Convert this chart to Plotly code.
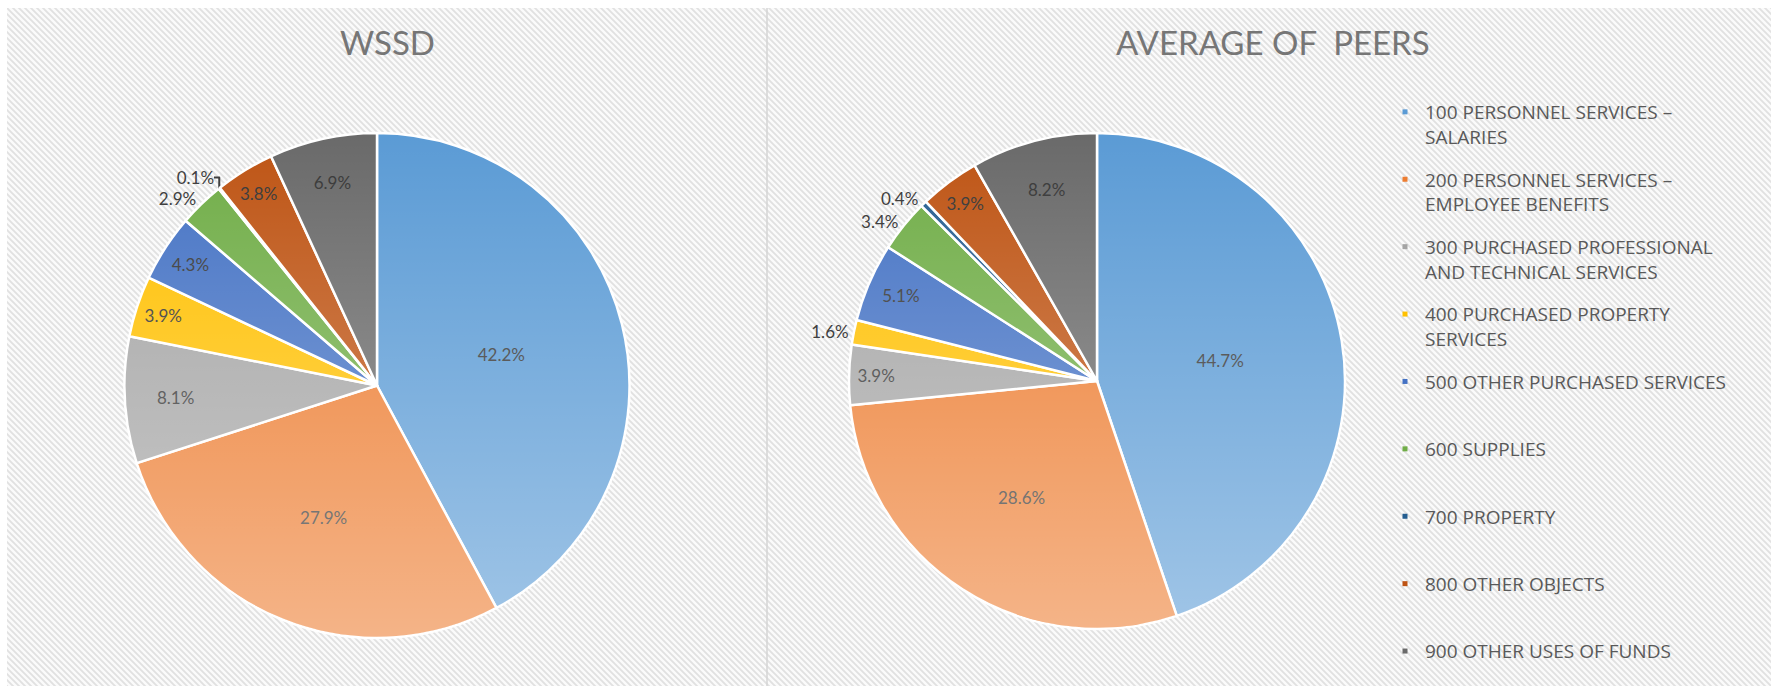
import base64
import plotly.graph_objects as go

# Expenditure categories (object codes)
categories = [
    "100 PERSONNEL SERVICES –<br>SALARIES",
    "200 PERSONNEL SERVICES –<br>EMPLOYEE BENEFITS",
    "300 PURCHASED PROFESSIONAL<br>AND TECHNICAL SERVICES",
    "400 PURCHASED PROPERTY<br>SERVICES",
    "500 OTHER PURCHASED SERVICES",
    "600 SUPPLIES",
    "700 PROPERTY",
    "800 OTHER OBJECTS",
    "900 OTHER USES OF FUNDS",
]

# Share of total spending (%)
wssd_values = [42.2, 27.9, 8.1, 3.9, 4.3, 2.9, 0.1, 3.8, 6.9]
peers_values = [44.7, 28.6, 3.9, 1.6, 5.1, 3.4, 0.4, 3.9, 8.2]

chart_titles = ["WSSD", "AVERAGE OF  PEERS"]

# Slice colours (Office-style palette; a vertical light gradient is laid over each pie)
colors = ["#5B9BD5", "#ED7D31", "#A5A5A5", "#FFC000", "#4472C4",
          "#70AD47", "#255E91", "#BE5414", "#6A6A6A"]

wssd_textpos = ["inside", "inside", "inside", "inside", "inside",
                "outside", "outside", "inside", "inside"]
peers_textpos = ["inside", "inside", "inside", "outside", "inside",
                 "outside", "outside", "inside", "inside"]

W, H = 1771, 686
FONT = "Lato"
LABEL_COLOR = "#353535"

# Pie placement in pixels: centre x, centre y, radius
PIES = [(377, 385.5, 252.5), (1097, 381, 248)]


def px_domain(cx, cy, r):
    return dict(x=[(cx - r) / W, (cx + r) / W],
                y=[(H - (cy + r)) / H, (H - (cy - r)) / H])


fig = go.Figure()

for values, textpos, (cx, cy, r) in [
    (wssd_values, wssd_textpos, PIES[0]),
    (peers_values, peers_textpos, PIES[1]),
]:
    fig.add_trace(go.Pie(
        labels=categories,
        values=values,
        sort=False,
        direction="clockwise",
        rotation=0,
        domain=px_domain(cx, cy, r),
        marker=dict(colors=colors, line=dict(color="white", width=2.5)),
        texttemplate="%{value:.1f}%",
        textposition=textpos,
        insidetextorientation="horizontal",
        textfont=dict(family=FONT, size=17, color=LABEL_COLOR),
        outsidetextfont=dict(family=FONT, size=17, color="#404040"),
        showlegend=False,
        hoverinfo="label+value",
    ))

# Legend entries with small square swatches
for i, (name, col) in enumerate(zip(categories, colors)):
    label = name if ("<br>" in name or i == len(categories) - 1) else name + "<br>\u00a0"
    fig.add_trace(go.Scatter(
        x=[None], y=[None], mode="markers",
        marker=dict(symbol="square", size=5, color=col),
        name=label, legendgroup=f"g{i}", showlegend=True,
        hoverinfo="skip",
    ))


def svg_uri(svg):
    return "data:image/svg+xml;base64," + base64.b64encode(svg.encode()).decode()


# Hatched backdrop
pattern_svg = (
    f'<svg xmlns="http://www.w3.org/2000/svg" width="{W - 7}" height="{H - 8}">'
    '<defs><pattern id="p" width="6" height="6" patternUnits="userSpaceOnUse">'
    '<rect width="6" height="6" fill="#fbfbfb"/>'
    '<path d="M-1,-1 L7,7 M-1,5 L1,7 M5,-1 L7,1" stroke="#e1e1e1" stroke-width="1.8"/>'
    '</pattern></defs><rect width="100%" height="100%" fill="url(#p)"/></svg>'
)

images = [dict(
    source=svg_uri(pattern_svg), xref="paper", yref="paper",
    x=7 / W, y=1 - 8 / H, sizex=(W - 7) / W, sizey=(H - 8) / H,
    xanchor="left", yanchor="top", sizing="stretch", layer="below",
)]

# Top-to-bottom light sheen over each pie
for cx, cy, r in PIES:
    d = 2 * r
    sheen_svg = (
        f'<svg xmlns="http://www.w3.org/2000/svg" width="{d}" height="{d}" viewBox="0 0 {d} {d}">'
        '<defs><linearGradient id="g" x1="0" y1="0" x2="0" y2="1">'
        '<stop offset="0" stop-color="#fff" stop-opacity="0"/>'
        '<stop offset="1" stop-color="#fff" stop-opacity="0.42"/>'
        '</linearGradient></defs>'
        f'<circle cx="{r}" cy="{r}" r="{r - 1}" fill="url(#g)"/></svg>'
    )
    images.append(dict(
        source=svg_uri(sheen_svg), xref="paper", yref="paper",
        x=(cx - r) / W, y=(H - (cy - r)) / H, sizex=d / W, sizey=d / H,
        xanchor="left", yanchor="top", sizing="stretch", layer="above",
    ))

fig.update_layout(
    width=W, height=H,
    margin=dict(l=0, r=0, t=0, b=0, autoexpand=False),
    paper_bgcolor="white",
    plot_bgcolor="rgba(0,0,0,0)",
    font=dict(family=FONT, color="#595959"),
    uniformtext=dict(minsize=17, mode="show"),
    xaxis=dict(visible=False, domain=[0.99, 1.0]),
    yaxis=dict(visible=False, domain=[0.99, 1.0]),
    images=images,
    shapes=[dict(
        type="line", xref="paper", yref="paper",
        x0=767 / W, x1=767 / W, y0=0, y1=1 - 8 / H,
        line=dict(color="#d4d4d4", width=1.5),
    )],
    annotations=[
        dict(text=chart_titles[0], xref="paper", yref="paper",
             x=387 / W, y=1 - 42 / H, xanchor="center", yanchor="middle",
             showarrow=False, font=dict(family=FONT, size=33, color="#767676")),
        dict(text=chart_titles[1], xref="paper", yref="paper",
             x=1273 / W, y=1 - 42 / H, xanchor="center", yanchor="middle",
             showarrow=False, font=dict(family=FONT, size=33, color="#767676")),
    ],
    legend=dict(
        x=1385 / W, y=1 - 93 / H, xanchor="left", yanchor="top",
        bgcolor="rgba(0,0,0,0)", borderwidth=0,
        font=dict(family="Open Sans", size=19, color="#595959"),
        valign="top", traceorder="grouped", tracegroupgap=15,
        itemclick=False, itemdoubleclick=False,
    ),
)

fig.write_html("out.html")
